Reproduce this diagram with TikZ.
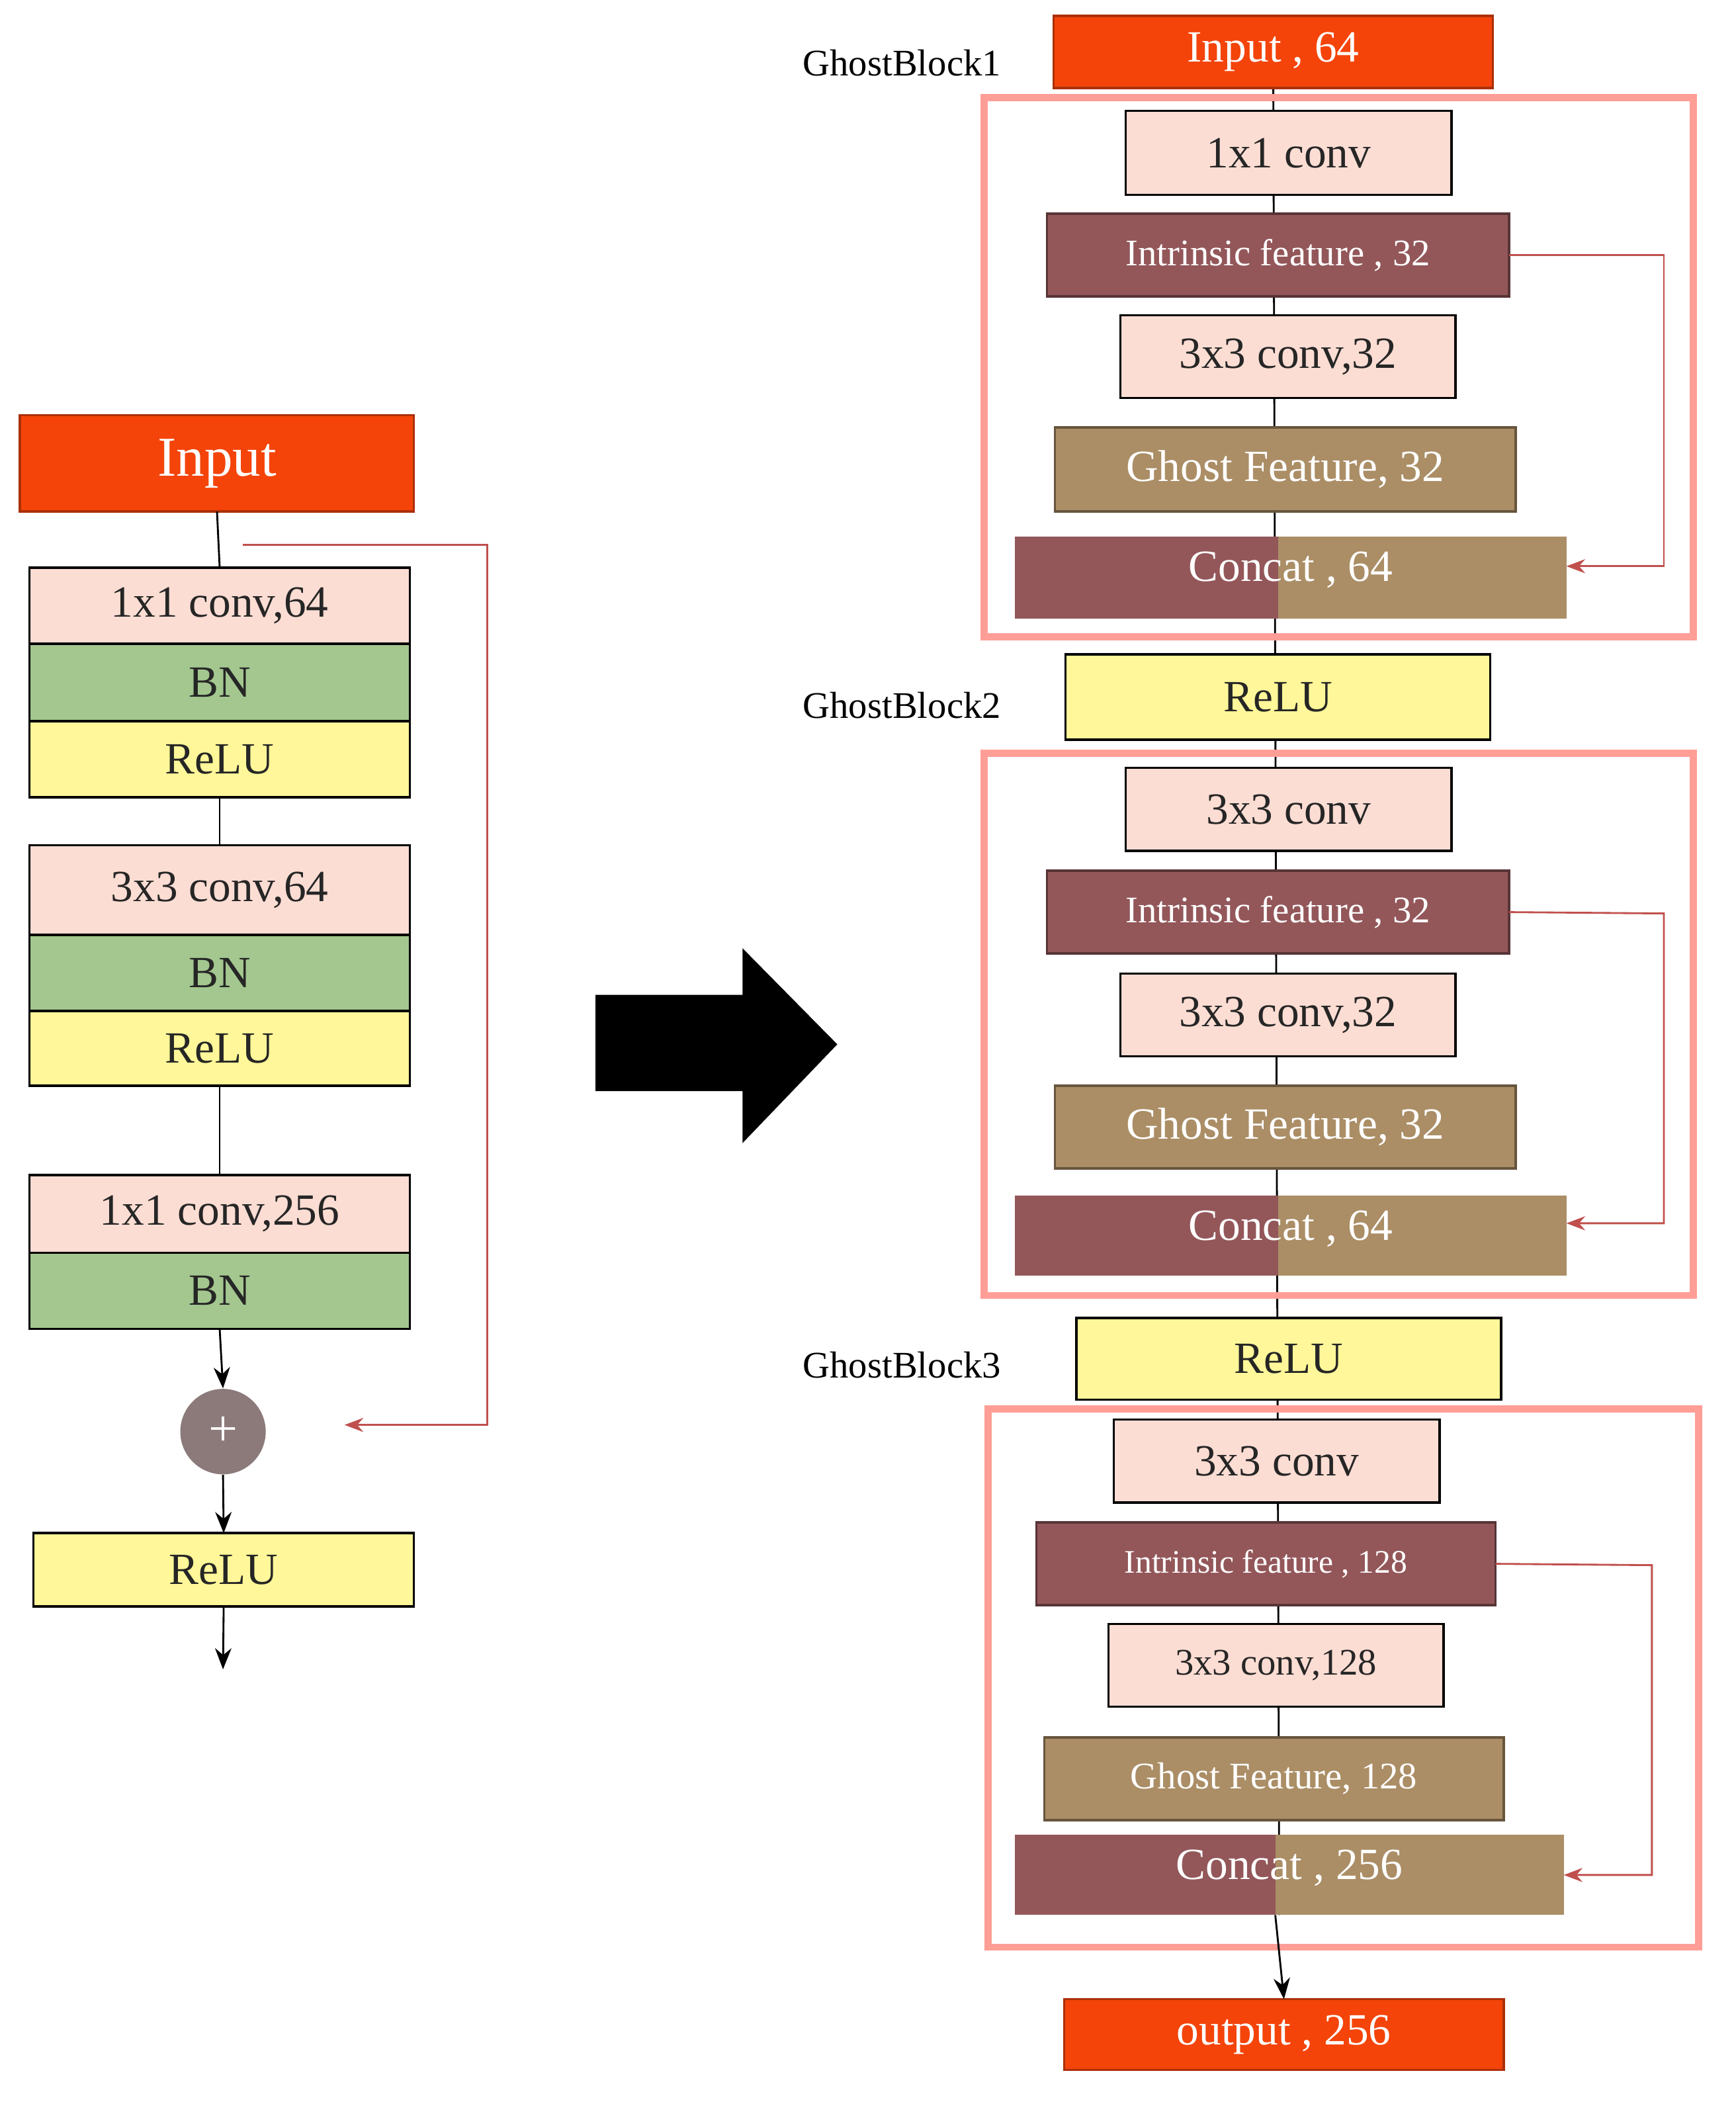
\documentclass[tikz,border=0pt]{standalone}
\usepackage{fontspec}
\setmainfont{Liberation Serif}
\usetikzlibrary{arrows.meta,backgrounds}
\definecolor{orng}{HTML}{F4440A}
\definecolor{pnk}{HTML}{FCDDD3}
\definecolor{grn}{HTML}{A3C78F}
\definecolor{yel}{HTML}{FFF799}
\definecolor{maro}{HTML}{93575A}
\definecolor{tan}{HTML}{AB8E66}
\definecolor{rbox}{HTML}{FF9E96}
\definecolor{skip}{HTML}{C0504D}
\definecolor{plus}{HTML}{8C7A7A}
\newcommand{\bx}[7]{%
  \pgfmathsetmacro\bw{(#4-#2)*0.02}\pgfmathsetmacro\bh{(#5-#3)*0.02}%
  \node[#6,minimum width=\bw cm,minimum height=\bh cm] (#1) at ({(#2+#4)/2},{(#3+#5)/2}) {#7};}
\tikzset{
  base/.style={inner sep=0pt,outer sep=0pt,draw=black,line width=1pt},
  inp/.style={base,fill=orng,draw=orng!70!black,text=white},
  pk/.style={base,fill=pnk,text=black!85},
  gn/.style={base,fill=grn,text=black!85},
  yw/.style={base,fill=yel,text=black!85},
  ma/.style={base,fill=maro,draw=maro!60!black,text=white},
  ta/.style={base,fill=tan,draw=tan!60!black,text=white},
  cc/.style={inner sep=0pt,outer sep=0pt,text=white},
  lbl/.style={font=\fontsize{16}{18}\selectfont},
  blk/.style={draw=rbox,line width=3pt},
  sk/.style={draw=skip,line width=0.8pt,-{Stealth[length=8pt,width=6pt]}},
  ln/.style={draw=black,line width=0.8pt},
  ar/.style={ln,-{Stealth[length=9pt,width=7pt]}}
}
\begin{document}
\begin{tikzpicture}[x=0.02cm,y=-0.02cm]
\useasboundingbox (0,0) rectangle (1300,1574);
% ---------- left ----------
\bx{lin}{15}{311}{310}{383}{inp,font=\fontsize{24}{26}\selectfont}{Input}
\bx{l1}{22}{425}{307}{482}{pk,font=\fontsize{19}{21}\selectfont}{1x1 conv,64}
\bx{l2}{22}{482}{307}{540}{gn,font=\fontsize{19}{21}\selectfont}{BN}
\bx{l3}{22}{540}{307}{597}{yw,font=\fontsize{19}{21}\selectfont}{ReLU}
\bx{l4}{22}{633}{307}{700}{pk,font=\fontsize{19}{21}\selectfont}{3x3 conv,64}
\bx{l5}{22}{700}{307}{757}{gn,font=\fontsize{19}{21}\selectfont}{BN}
\bx{l6}{22}{757}{307}{813}{yw,font=\fontsize{19}{21}\selectfont}{ReLU}
\bx{l7}{22}{880}{307}{938}{pk,font=\fontsize{19}{21}\selectfont}{1x1 conv,256}
\bx{l8}{22}{938}{307}{995}{gn,font=\fontsize{19}{21}\selectfont}{BN}
\node[circle,fill=plus,text=white,minimum size=1.28cm,inner sep=0pt,font=\fontsize{22}{22}\selectfont] (pl) at (167,1072) {+};
\bx{l9}{25}{1148}{310}{1203}{yw,font=\fontsize{19}{21}\selectfont}{ReLU}
\coordinate (lend) at (167,1250);
\coordinate (sk0) at (182,408);
\coordinate (sk1) at (258,1067);
\draw[ln] (lin.south) -- (l1.north);
\draw[ln] (l3.south) -- (l4.north);
\draw[ln] (l6.south) -- (l7.north);
\draw[ar] (l8.south) -- (pl.north);
\draw[ar] (pl.south) -- (l9.north);
\draw[ar] (l9.south) -- (lend);
\draw[sk] (sk0) -- (365,408) -- (365,1067) -- (sk1);
% ---------- big arrow ----------
\fill[black] (446,745) -- (556,745) -- (556,710) -- (627,782) -- (556,856) -- (556,817) -- (446,817) -- cycle;
% ---------- right ----------
\bx{rin}{789}{12}{1118}{66}{inp,font=\fontsize{19}{21}\selectfont}{Input , 64}
\node[lbl,anchor=west] (g1) at (595,47) {GhostBlock1};
\node[lbl,anchor=west] (g2) at (595,528) {GhostBlock2};
\node[lbl,anchor=west] (g3) at (595,1022) {GhostBlock3};
\coordinate (oend) at (955,1497);
% spine (behind)
\bx{out}{797}{1497}{1126}{1550}{inp,font=\fontsize{19}{21}\selectfont}{output , 256}
\begin{scope}[on background layer]
\draw[ln] (rin.south) -- (958,1434);
\end{scope}
\draw[blk] (737,73) rectangle (1268,477);
\draw[blk] (737,564) rectangle (1268,970);
\draw[blk] (740,1055) rectangle (1272,1458);
% block 1
\bx{a1}{843}{83}{1087}{146}{pk,font=\fontsize{19}{21}\selectfont}{1x1 conv}
\bx{a2}{784}{160}{1130}{222}{ma,font=\fontsize{16}{18}\selectfont}{Intrinsic feature , 32}
\bx{a3}{839}{236}{1090}{298}{pk,font=\fontsize{19}{21}\selectfont}{3x3 conv,32}
\bx{a4}{790}{320}{1135}{383}{ta,font=\fontsize{19}{21}\selectfont}{Ghost Feature, 32}
\fill[maro] (760,402) rectangle (957,463);
\fill[tan] (957,402) rectangle (1173,463);
\bx{a5}{760}{402}{1173}{452}{cc,font=\fontsize{19}{21}\selectfont}{Concat , 64}
\draw[sk] (a2.east) -- (1246,191) -- (1246,424) -- (1173,424);
\bx{r1}{798}{490}{1116}{554}{yw,font=\fontsize{19}{21}\selectfont}{ReLU}
% block 2
\bx{b1}{843}{575}{1087}{637}{pk,font=\fontsize{19}{21}\selectfont}{3x3 conv}
\bx{b2}{784}{652}{1130}{714}{ma,font=\fontsize{16}{18}\selectfont}{Intrinsic feature , 32}
\bx{b3}{839}{729}{1090}{791}{pk,font=\fontsize{19}{21}\selectfont}{3x3 conv,32}
\bx{b4}{790}{813}{1135}{875}{ta,font=\fontsize{19}{21}\selectfont}{Ghost Feature, 32}
\fill[maro] (760,895) rectangle (957,955);
\fill[tan] (957,895) rectangle (1173,955);
\bx{b5}{760}{895}{1173}{945}{cc,font=\fontsize{19}{21}\selectfont}{Concat , 64}
\draw[sk] (b2.east) -- (1246,684) -- (1246,916) -- (1173,916);
\bx{r2}{806}{987}{1124}{1048}{yw,font=\fontsize{19}{21}\selectfont}{ReLU}
% block 3
\bx{c1}{834}{1063}{1078}{1125}{pk,font=\fontsize{19}{21}\selectfont}{3x3 conv}
\bx{c2}{776}{1140}{1120}{1202}{ma,font=\fontsize{14}{16}\selectfont}{Intrinsic feature , 128}
\bx{c3}{830}{1216}{1081}{1278}{pk,font=\fontsize{16}{18}\selectfont}{3x3 conv,128}
\bx{c4}{782}{1301}{1126}{1363}{ta,font=\fontsize{16}{18}\selectfont}{Ghost Feature, 128}
\fill[maro] (760,1374) rectangle (955,1434);
\fill[tan] (955,1374) rectangle (1171,1434);
\bx{c5}{760}{1374}{1171}{1424}{cc,font=\fontsize{19}{21}\selectfont}{Concat , 256}
\draw[sk] (c2.east) -- (1237,1172) -- (1237,1404) -- (1171,1404);
\draw[ar] (955,1434) -- (out.north);
\end{tikzpicture}
\end{document}
